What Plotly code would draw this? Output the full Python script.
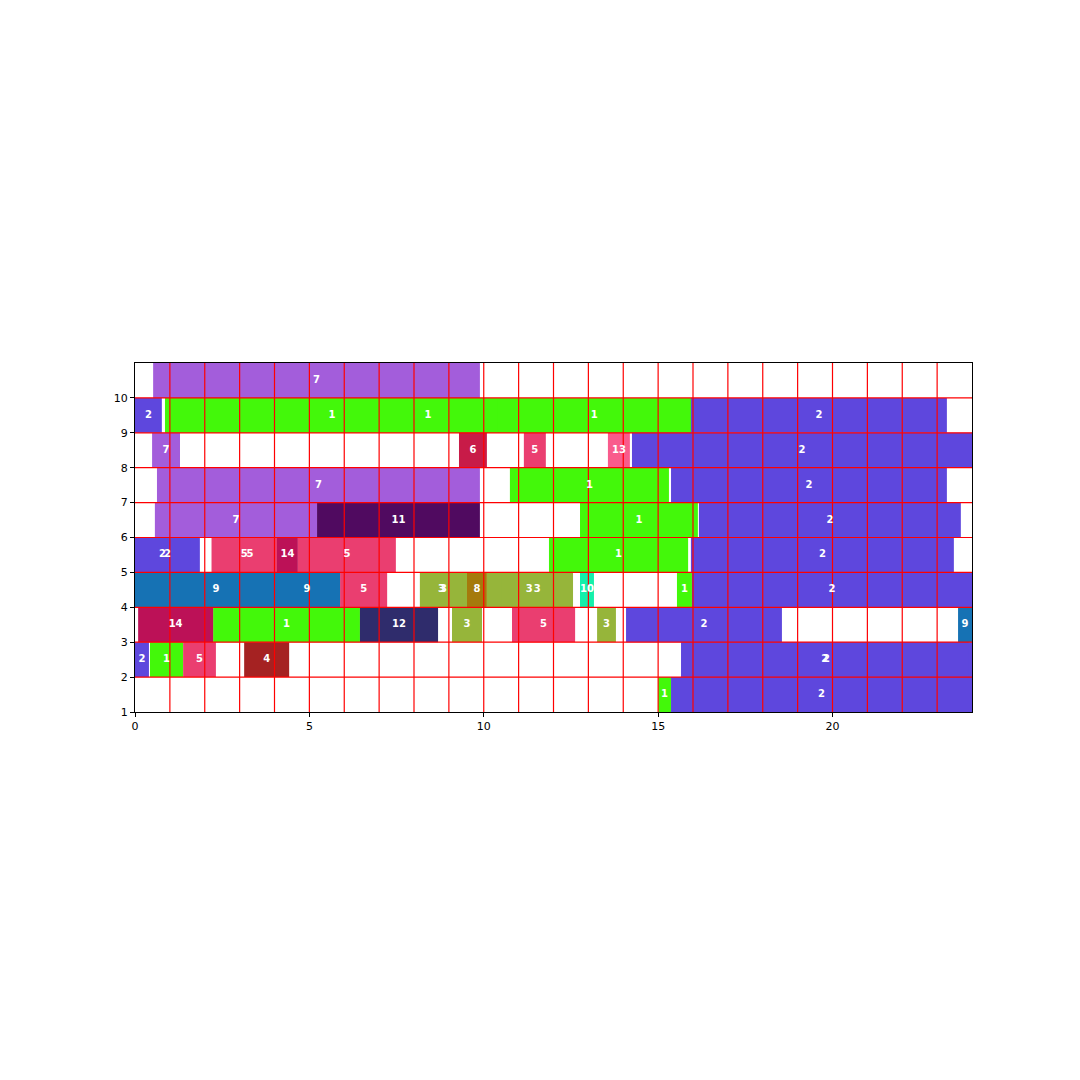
import plotly.graph_objects as go

# ---- data: each bar is (row, start, end, job label) ----
rows = [10,
        9, 9, 9, 9, 9,
        8, 8, 8, 8, 8,
        7, 7, 7,
        6, 6, 6, 6,
        5, 5, 5, 5, 5, 5, 5, 5,
        4, 4, 4, 4, 4, 4, 4, 4, 4, 4, 4,
        3, 3, 3, 3, 3, 3, 3, 3,
        2, 2, 2, 2, 2, 2,
        1, 1]
starts = [0.52,
          0.0, 0.86, 0.86, 10.40, 15.94,
          0.49, 9.29, 11.15, 13.56, 14.25,
          0.63, 10.75, 15.37,
          0.57, 5.22, 12.76, 16.17,
          0.0, 0.0, 2.20, 2.20, 4.07, 4.67, 11.87, 15.94,
          0.0, 3.98, 5.88, 8.17, 8.17, 9.52, 10.09, 10.50, 12.76, 15.54, 15.97,
          0.09, 2.24, 6.45, 9.09, 10.81, 13.25, 14.08, 23.60,
          0.0, 0.43, 1.38, 3.13, 15.66, 15.66,
          15.00, 15.37]
ends = [9.89,
        0.77, 10.44, 15.94, 15.94, 23.28,
        1.29, 10.09, 11.78, 14.19, 24.0,
        9.89, 15.31, 23.28,
        5.22, 9.89, 16.14, 23.68,
        1.86, 1.58, 4.07, 4.40, 4.67, 7.48, 15.86, 23.48,
        4.64, 5.88, 7.23, 9.52, 9.40, 10.09, 12.52, 12.56, 13.16, 15.97, 24.0,
        2.24, 6.45, 8.69, 9.95, 12.62, 13.79, 18.55, 24.0,
        0.40, 1.38, 2.32, 4.42, 24.0, 23.90,
        15.37, 24.0]
labels = [7,
          2, 1, 1, 1, 2,
          7, 6, 5, 13, 2,
          7, 1, 2,
          7, 11, 1, 2,
          2, 2, 5, 5, 14, 5, 1, 2,
          9, 9, 5, 3, 3, 8, 3, 3, 10, 1, 2,
          14, 1, 12, 3, 5, 3, 2, 9,
          2, 1, 5, 4, 2, 2,
          1, 2]

job_colors = {
    1: "rgb(67,248,10)",
    2: "rgb(94,71,221)",
    3: "rgb(150,181,58)",
    4: "rgb(165,34,34)",
    5: "rgb(234,62,112)",
    6: "rgb(200,27,72)",
    7: "rgb(163,93,219)",
    8: "rgb(165,122,12)",
    9: "rgb(22,114,180)",
    10: "rgb(20,240,170)",
    11: "rgb(80,10,96)",
    12: "rgb(47,44,108)",
    13: "rgb(249,91,140)",
    14: "rgb(188,17,87)",
}

x_ticks = [0, 5, 10, 15, 20]
y_ticks = list(range(1, 11))
x_grid = list(range(1, 24))
y_grid = list(range(2, 11))
x_range = [0, 24]
y_range = [1, 11]

fig = go.Figure()

for job in sorted(job_colors):
    idx = [i for i, l in enumerate(labels) if l == job]
    if not idx:
        continue
    fig.add_trace(go.Bar(
        orientation="h",
        y=[rows[i] + 0.5 for i in idx],
        x=[ends[i] - starts[i] for i in idx],
        base=[starts[i] for i in idx],
        width=1,
        marker=dict(color=job_colors[job], line=dict(width=0)),
        showlegend=False,
        hoverinfo="skip",
    ))

# grid lines drawn on top of bars
gx, gy = [], []
for v in x_grid:
    gx += [v, v, None]
    gy += [y_range[0], y_range[1], None]
for v in y_grid:
    gx += [x_range[0], x_range[1], None]
    gy += [v, v, None]
fig.add_trace(go.Scatter(x=gx, y=gy, mode="lines",
                         line=dict(color="red", width=1.2),
                         showlegend=False, hoverinfo="skip"))

# labels at bar centres
fig.add_trace(go.Scatter(
    x=[(s + e) / 2 for s, e in zip(starts, ends)],
    y=[r + 0.5 for r in rows],
    text=[str(l) for l in labels],
    mode="text",
    textfont=dict(family="DejaVu Sans", size=10, color="white", weight="bold"),
    showlegend=False, hoverinfo="skip",
))

fig.update_layout(
    width=1080, height=1080, autosize=False,
    margin=dict(l=127, r=116, t=355, b=376),
    plot_bgcolor="white", paper_bgcolor="white",
    barmode="overlay",
    font=dict(family="DejaVu Sans", size=11, color="black"),
)
fig.update_xaxes(range=x_range, tickvals=x_ticks, showgrid=False, zeroline=False,
                 showline=True, linecolor="black", linewidth=1, mirror=True,
                 ticks="outside", ticklen=4, tickcolor="black")
fig.update_yaxes(range=y_range, tickvals=y_ticks, showgrid=False, zeroline=False,
                 showline=True, linecolor="black", linewidth=1, mirror=True,
                 ticks="outside", ticklen=4, tickcolor="black")

fig.write_html("out.html")
